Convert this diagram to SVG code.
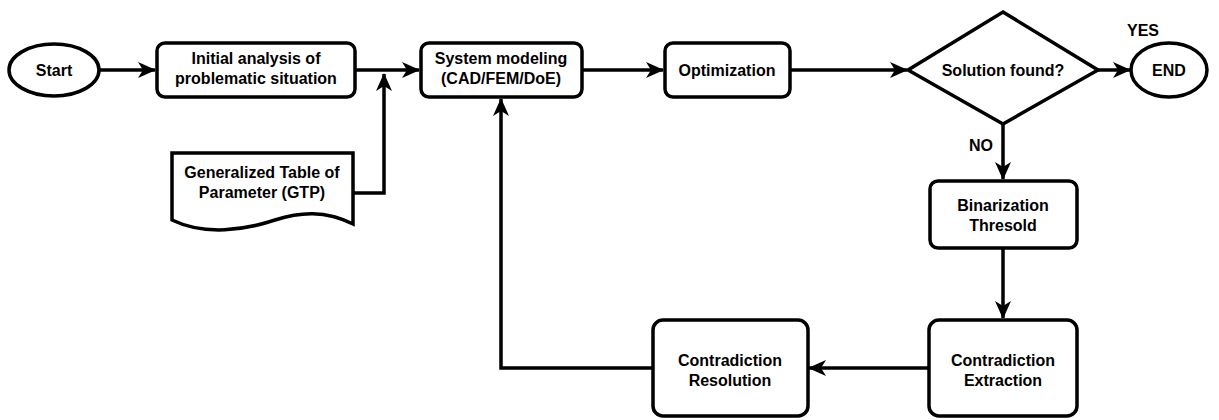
<svg xmlns="http://www.w3.org/2000/svg" width="1219" height="420" viewBox="0 0 1219 420">
<defs>
<style>
.n{fill:#fff;stroke:#000;stroke-width:3.5}
.t{font-family:"Liberation Sans",Arial,sans-serif;font-weight:bold;font-size:16px;fill:#000;text-anchor:middle}
.c{fill:none;stroke:#000;stroke-width:3.5}
</style>
<marker id="a" markerWidth="18" markerHeight="16" refX="17" refY="8" orient="auto" markerUnits="userSpaceOnUse">
<path d="M0,0 L18,8 L0,16 L5,8 z" fill="#000"/>
</marker>
</defs>
<rect width="1219" height="420" fill="#fff"/>
<g id="connectors">
<path class="c" d="M99,70 H155" marker-end="url(#a)"/>
<path class="c" d="M355,70 H419" marker-end="url(#a)"/>
<path class="c" d="M353,193 H384 V74" marker-end="url(#a)"/>
<path class="c" d="M582,70 H663" marker-end="url(#a)"/>
<path class="c" d="M790,70 H907" marker-end="url(#a)"/>
<path class="c" d="M1098,70 H1130" marker-end="url(#a)"/>
<path class="c" d="M1003,124 V179" marker-end="url(#a)"/>
<path class="c" d="M1003,248 V318" marker-end="url(#a)"/>
<path class="c" d="M929,368 H809" marker-end="url(#a)"/>
<path class="c" d="M653,368 H501 V99" marker-end="url(#a)"/>
</g>
<g id="start"><ellipse class="n" cx="54" cy="70" rx="45" ry="26"/><text class="t" x="54" y="76">Start</text></g>
<g id="initial"><rect class="n" x="157" y="43" width="198" height="54" rx="8"/><text class="t" x="256" y="64">Initial analysis of</text><text class="t" x="256" y="84">problematic situation</text></g>
<g id="gtp"><path class="n" d="M172,153 H353 V224 C325,210 300,212 275,220 C245,230 205,236 172,220 Z"/><text class="t" x="262" y="178">Generalized Table of</text><text class="t" x="262" y="198">Parameter (GTP)</text></g>
<g id="system"><rect class="n" x="421" y="43" width="161" height="54" rx="8"/><text class="t" x="501" y="64">System modeling</text><text class="t" x="501" y="84">(CAD/FEM/DoE)</text></g>
<g id="opt"><rect class="n" x="665" y="43" width="125" height="54" rx="8"/><text class="t" x="727" y="76">Optimization</text></g>
<g id="decision"><polygon class="n" points="1003,12 1098,70 1003,124 908,70"/><text class="t" x="1003" y="76">Solution found?</text></g>
<g id="end"><ellipse class="n" cx="1169" cy="70" rx="38" ry="27"/><text class="t" x="1169" y="76">END</text></g>
<text class="t" x="1143" y="36">YES</text>
<text class="t" x="981" y="151">NO</text>
<g id="binar"><rect class="n" x="930" y="181" width="147" height="67" rx="8"/><text class="t" x="1003" y="211">Binarization</text><text class="t" x="1003" y="231">Thresold</text></g>
<g id="extract"><rect class="n" x="929" y="320" width="148" height="96" rx="10"/><text class="t" x="1003" y="366">Contradiction</text><text class="t" x="1003" y="386">Extraction</text></g>
<g id="resol"><rect class="n" x="653" y="320" width="155" height="96" rx="10"/><text class="t" x="730" y="366">Contradiction</text><text class="t" x="730" y="386">Resolution</text></g>
</svg>
